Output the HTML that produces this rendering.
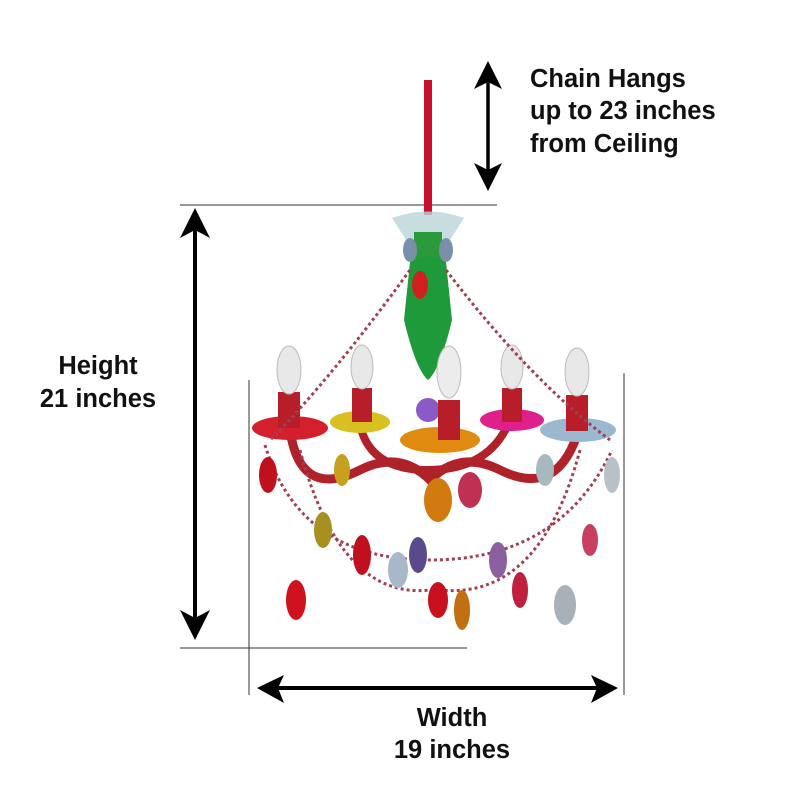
<!DOCTYPE html>
<html><head><meta charset="utf-8"><style>
html,body{margin:0;padding:0;background:#fff;}
.t{font-family:"Liberation Sans",sans-serif;font-weight:bold;fill:#111;font-size:25.5px;}
</style></head><body>
<svg width="800" height="800" viewBox="0 0 800 800" xmlns="http://www.w3.org/2000/svg">
<!-- guide lines -->
<line x1="180" y1="205" x2="497" y2="205" stroke="#333" stroke-width="1"/>
<line x1="180" y1="648" x2="467" y2="648" stroke="#333" stroke-width="1"/>
<line x1="249" y1="380" x2="249" y2="695" stroke="#333" stroke-width="1"/>
<line x1="624" y1="373" x2="624" y2="695" stroke="#333" stroke-width="1"/>
<!-- chain arrow -->
<line x1="488" y1="75" x2="488" y2="178" stroke="#000" stroke-width="3.5"/>
<path d="M488,61 L502,89 L488,82 L474,89 Z" fill="#000"/>
<path d="M488,191 L502,163 L488,170 L474,163 Z" fill="#000"/>
<!-- height arrow -->
<line x1="195" y1="222" x2="195" y2="628" stroke="#000" stroke-width="4"/>
<path d="M195,208 L210,238 L195,230 L180,238 Z" fill="#000"/>
<path d="M195,640 L210,610 L195,618 L180,610 Z" fill="#000"/>
<!-- width arrow -->
<line x1="270" y1="688" x2="605" y2="688" stroke="#000" stroke-width="4"/>
<path d="M257,688 L284,675 L278,688 L284,703 Z" fill="#000"/>
<path d="M618,688 L591,675 L597,688 L591,703 Z" fill="#000"/>
<!-- text -->
<text class="t" x="530" y="87">Chain Hangs</text>
<text class="t" x="530" y="119">up to 23 inches</text>
<text class="t" x="530" y="152">from Ceiling</text>
<text class="t" x="98" y="374" text-anchor="middle">Height</text>
<text class="t" x="98" y="407" text-anchor="middle">21 inches</text>
<text class="t" x="452" y="726" text-anchor="middle">Width</text>
<text class="t" x="452" y="758" text-anchor="middle">19 inches</text>
<!-- chandelier -->
<g>
<rect x="424" y="80" width="8" height="135" fill="#c8102e"/>
<path d="M392 218 Q428 205 464 218 L450 240 L406 240 Z" fill="#b9d4d8" opacity="0.8"/>
<rect x="414" y="232" width="28" height="30" fill="#2a9a3a"/>
<path d="M410 262 Q428 250 446 262 L452 320 Q440 370 428 380 Q416 370 404 320 Z" fill="#1f9a3a"/>
<circle cx="428" cy="410" r="12" fill="#8a5ac8"/>
<path d="M290 430 Q300 500 360 470 Q400 450 430 480 Q460 450 500 470 Q560 500 580 425" fill="none" stroke="#b0222a" stroke-width="9"/>
<path d="M360 425 Q370 470 428 470 Q490 470 510 420" fill="none" stroke="#b0222a" stroke-width="8"/>
<ellipse cx="290" cy="428" rx="38" ry="12" fill="#d4202c"/>
<ellipse cx="360" cy="422" rx="30" ry="11" fill="#d8c020"/>
<ellipse cx="440" cy="440" rx="40" ry="13" fill="#e08a10"/>
<ellipse cx="512" cy="420" rx="32" ry="11" fill="#e0208a"/>
<ellipse cx="578" cy="430" rx="38" ry="12" fill="#9ab8d0"/>
<rect x="278" y="392" width="22" height="36" fill="#b81e2a"/>
<rect x="352" y="388" width="20" height="34" fill="#b81e2a"/>
<rect x="438" y="400" width="22" height="40" fill="#b81e2a"/>
<rect x="502" y="388" width="20" height="34" fill="#b81e2a"/>
<rect x="566" y="395" width="22" height="36" fill="#b81e2a"/>
<ellipse cx="289" cy="370" rx="12" ry="24" fill="#e8e8e8" stroke="#bbb"/>
<ellipse cx="362" cy="367" rx="11" ry="22" fill="#e8e8e8" stroke="#bbb"/>
<ellipse cx="449" cy="372" rx="12" ry="26" fill="#ececec" stroke="#bbb"/>
<ellipse cx="512" cy="367" rx="11" ry="22" fill="#e8e8e8" stroke="#bbb"/>
<ellipse cx="577" cy="372" rx="12" ry="24" fill="#e8e8e8" stroke="#bbb"/>
<g fill="none" stroke="#a04050" stroke-width="3" stroke-dasharray="3 3">
<path d="M410 270 Q330 380 270 440"/>
<path d="M446 270 Q530 380 610 440"/>
<path d="M265 445 Q300 560 430 560 Q560 560 612 450"/>
<path d="M300 450 Q340 600 430 590"/>
<path d="M580 450 Q540 600 440 590"/>
</g>
<g>
<ellipse cx="268" cy="475" rx="9" ry="18" fill="#c0101e"/>
<ellipse cx="296" cy="600" rx="10" ry="20" fill="#d0121e"/>
<ellipse cx="323" cy="530" rx="9" ry="18" fill="#a89020"/>
<ellipse cx="362" cy="555" rx="9" ry="20" fill="#c01020"/>
<ellipse cx="342" cy="470" rx="8" ry="16" fill="#c8a020"/>
<ellipse cx="398" cy="570" rx="10" ry="18" fill="#a8b8c8"/>
<ellipse cx="418" cy="555" rx="9" ry="18" fill="#5a4a8a"/>
<ellipse cx="438" cy="600" rx="10" ry="18" fill="#c8101e"/>
<ellipse cx="462" cy="610" rx="8" ry="20" fill="#c07010"/>
<ellipse cx="438" cy="500" rx="14" ry="22" fill="#d07a10"/>
<ellipse cx="470" cy="490" rx="12" ry="18" fill="#c03050"/>
<ellipse cx="498" cy="560" rx="9" ry="18" fill="#8a60a0"/>
<ellipse cx="520" cy="590" rx="8" ry="18" fill="#c02040"/>
<ellipse cx="545" cy="470" rx="9" ry="16" fill="#a8b8c0"/>
<ellipse cx="565" cy="605" rx="11" ry="20" fill="#a8b0b8"/>
<ellipse cx="612" cy="475" rx="8" ry="18" fill="#b8c0c8"/>
<ellipse cx="590" cy="540" rx="8" ry="16" fill="#c84060"/>
<ellipse cx="420" cy="285" rx="8" ry="14" fill="#d02020"/>
<ellipse cx="410" cy="250" rx="7" ry="12" fill="#7890a8"/>
<ellipse cx="446" cy="250" rx="7" ry="12" fill="#7890a8"/>
</g>
</g>
</svg>
</body></html>
